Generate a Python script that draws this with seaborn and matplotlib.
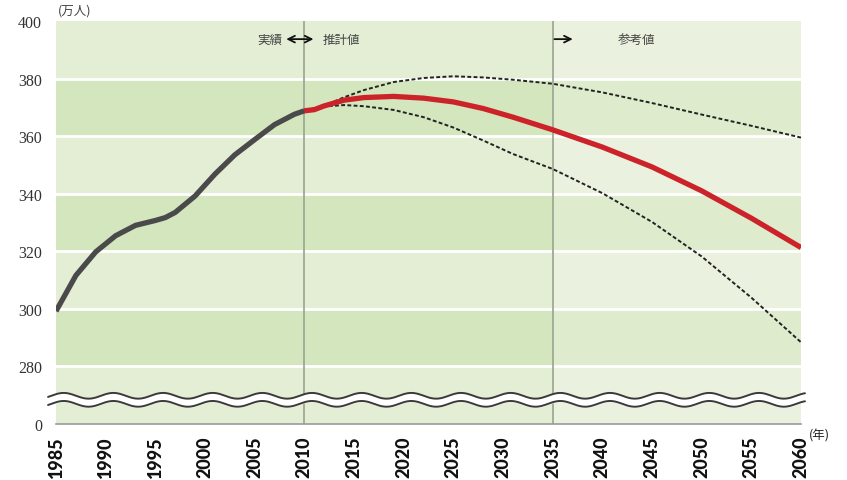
import numpy as np
import pandas as pd
import seaborn as sns
import matplotlib.pyplot as plt

# actual values (万人)
actual_years = [1985, 1987, 1989, 1991, 1993, 1995, 1996, 1997, 1999, 2001, 2003, 2005, 2007, 2009, 2010]
actual_vals = [299.2, 311.6, 319.8, 325.4, 329.0, 330.7, 331.7, 333.5, 339.2, 346.8, 353.5, 358.8, 364.0, 367.6, 368.8]

# projection (middle)
mid_years = [2010, 2011, 2012, 2014, 2016, 2019, 2022, 2025, 2028, 2031, 2035, 2040, 2045, 2050, 2055, 2060]
mid_vals = [368.8, 369.2, 370.5, 372.5, 373.4, 373.8, 373.2, 371.9, 369.6, 366.6, 362.2, 356.2, 349.3, 341.0, 331.5, 321.3]

# projection (high / low)
band_years = [2010, 2012, 2014, 2016, 2019, 2022, 2025, 2028, 2031, 2035, 2040, 2045, 2050, 2055, 2060]
high_vals = [368.8, 370.6, 373.5, 376.0, 378.8, 380.2, 380.8, 380.4, 379.6, 378.2, 375.2, 371.5, 367.5, 363.6, 359.5]
low_vals = [368.8, 370.3, 370.8, 370.4, 369.1, 366.6, 363.0, 358.5, 353.8, 348.6, 340.2, 330.2, 318.2, 303.9, 288.4]

y_ticks = [260, 280, 300, 320, 340, 360, 380, 400]
y_labels = ["0", "280", "300", "320", "340", "360", "380", "400"]
x_ticks = list(range(1985, 2061, 5))

sns.set_theme(style="white")
plt.rcParams['font.family'] = ['Noto Sans CJK JP', 'DejaVu Sans']

fig = plt.figure(figsize=(8.47, 4.81), dpi=100)
ax = fig.add_axes([56 / 847, 1 - 425 / 481, 745 / 847, 403 / 481])

# background bands
light = "#e3eed5"
dark = "#d3e6bd"
bands = [(260, 280, light), (280, 300, dark), (300, 320, light), (320, 340, dark),
         (340, 360, light), (360, 380, dark), (380, 400, light)]
for lo, hi, c in bands:
    ax.axhspan(lo, hi, color=c, lw=0, zorder=0)
ax.axvspan(2035, 2060, color="white", alpha=0.25, lw=0, zorder=0.5)
for y in y_ticks[1:-1]:
    ax.axhline(y, color="white", lw=2, zorder=1)
for x in [2010, 2035]:
    ax.axvline(x, color="#9fa996", lw=1.3, zorder=1)

# lines
df_act = pd.DataFrame({"year": actual_years, "val": actual_vals})
df_mid = pd.DataFrame({"year": mid_years, "val": mid_vals})
df_high = pd.DataFrame({"year": band_years, "val": high_vals})
df_low = pd.DataFrame({"year": band_years, "val": low_vals})

sns.lineplot(data=df_high, x="year", y="val", ax=ax, color="#222222", lw=1.4,
             linestyle=(0, (2, 1.2)), zorder=3)
sns.lineplot(data=df_low, x="year", y="val", ax=ax, color="#222222", lw=1.4,
             linestyle=(0, (2, 1.2)), zorder=3)
sns.lineplot(data=df_act, x="year", y="val", ax=ax, color="#4a4a4a", lw=3.8,
             zorder=4, solid_capstyle="butt", solid_joinstyle="round")
sns.lineplot(data=df_mid, x="year", y="val", ax=ax, color="#cc2229", lw=3.8,
             zorder=5, solid_capstyle="butt", solid_joinstyle="round")

# axis break symbol
wx = np.linspace(1984.2, 2060.4, 600)
wave = 1.0 * np.sin((wx - 1985) / 5.0 * 2 * np.pi + 0.6)
ax.fill_between(wx, 267.0 + wave, 269.8 + wave, color="white", zorder=6, clip_on=False)
ax.plot(wx, 269.8 + wave, color="#3a3a3a", lw=1.4, zorder=7, clip_on=False)
ax.plot(wx, 267.0 + wave, color="#3a3a3a", lw=1.4, zorder=7, clip_on=False)

ax.set_xlim(1985, 2060)
ax.set_ylim(260, 400)
ax.set_xticks(x_ticks)
ax.set_xticklabels([str(x) for x in x_ticks], rotation=90, fontsize=13,
                   fontweight="black", family=["Lato", "DejaVu Sans"], color="#111111")
ax.set_yticks(y_ticks)
ax.set_yticklabels(y_labels, fontsize=11.5, family=["Liberation Serif"], color="#333333")
ax.tick_params(axis="x", length=0, pad=8)
ax.tick_params(axis="y", length=0, pad=10)
ax.set_xlabel("")
ax.set_ylabel("")
for s in ["left", "top", "right"]:
    ax.spines[s].set_visible(False)
ax.spines["bottom"].set_color("#9a9a9a")
ax.spines["bottom"].set_linewidth(1.2)
ax.spines["bottom"].set_zorder(8)

# annotations
ax.text(2006.5, 393.7, "実績", ha="center", va="center", fontsize=9, color="#444444")
ax.annotate("", xy=(2007.9, 393.7), xytext=(2011.2, 393.7),
            arrowprops=dict(arrowstyle="<->", color="#111111", lw=1.3))
ax.text(2011.8, 393.7, "推計値", ha="left", va="center", fontsize=9, color="#444444")
ax.annotate("", xy=(2037.3, 393.7), xytext=(2034.9, 393.7),
            arrowprops=dict(arrowstyle="->", color="#111111", lw=1.3))
ax.text(2043.4, 393.7, "参考値", ha="center", va="center", fontsize=9, color="#444444")

fig.text(58 / 847, 1 - 11 / 481, "(万人)", ha="left", va="center", fontsize=9, color="#444444")
fig.text(809 / 847, 1 - 436 / 481, "(年)", ha="left", va="center", fontsize=9, color="#222222")

fig.savefig("out.png", dpi=100)
